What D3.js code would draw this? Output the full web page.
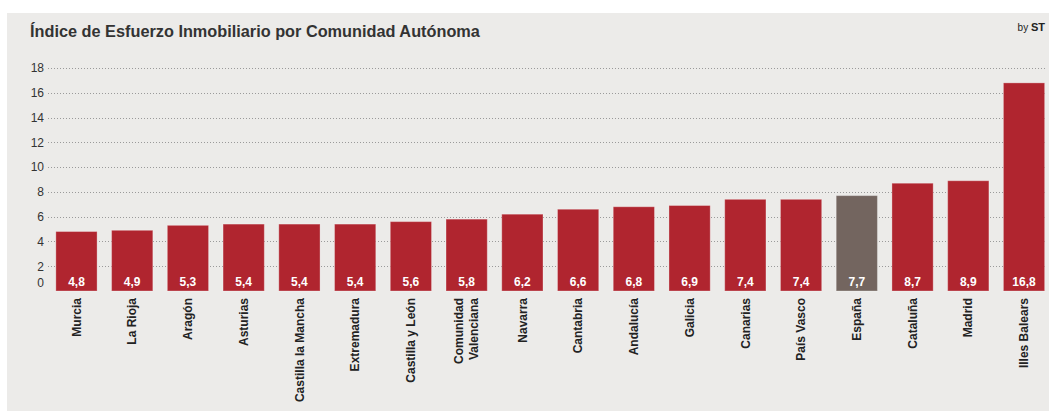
<!DOCTYPE html>
<html>
<head>
<meta charset="utf-8">
<script src="https://cdn.jsdelivr.net/npm/d3@7"></script>
<style>
  html, body { margin: 0; padding: 0; background: #fff; }
  svg { display: block; font-family: "Liberation Sans", Arial, sans-serif; }
</style>
</head>
<body>
<svg id="chart" width="1049" height="411"></svg>
<script>
const categories = ["Murcia", "La Rioja", "Aragón", "Asturias", "Castilla la Mancha", "Extremadura",
  "Castilla y León", "Comunidad Valenciana", "Navarra", "Cantabria", "Andalucía", "Galicia",
  "Canarias", "País Vasco", "España", "Cataluña", "Madrid", "Illes Balears"];
const values = [4.8, 4.9, 5.3, 5.4, 5.4, 5.4, 5.6, 5.8, 6.2, 6.6, 6.8, 6.9, 7.4, 7.4, 7.7, 8.7, 8.9, 16.8];
const highlight = ["España"];
const yTicks = [0, 2, 4, 6, 8, 10, 12, 14, 16, 18];
const title = "Índice de Esfuerzo Inmobiliario por Comunidad Autónoma";

const svg = d3.select("#chart");
const W = 1049, H = 411;
const m = { left: 48.6, right: 1051.9, top: 68, bottom: 291 };

svg.append("rect").attr("x", 7).attr("y", 13).attr("width", W - 7).attr("height", H - 13)
  .attr("fill", "#ecebe9");

svg.append("text").attr("x", 30).attr("y", 37).attr("font-size", 16.3).attr("font-weight", "bold")
  .attr("fill", "#333").text(title);

const by = svg.append("text").attr("x", 1045).attr("y", 31).attr("text-anchor", "end")
  .attr("font-size", 10).attr("fill", "#222");
by.append("tspan").text("by ");
by.append("tspan").attr("font-weight", "bold").attr("font-size", 11).text("ST");

const x = d3.scaleBand().domain(categories).range([m.left, m.right]).paddingInner(0.26).paddingOuter(0.13);
const y = d3.scaleLinear().domain([0, 18]).range([m.bottom, m.top]);

// grid lines
const grid = svg.append("g");
grid.selectAll("line").data(yTicks.filter(d => d > 0)).join("line")
  .attr("x1", 48).attr("x2", 1045)
  .attr("y1", d => Math.round(y(d)) + 0.5).attr("y2", d => Math.round(y(d)) + 0.5)
  .attr("stroke", "#9a9a9a").attr("stroke-width", 1).attr("stroke-dasharray", "1,2");

// y axis labels
const yAxis = d3.axisLeft(y).tickValues(yTicks).tickSize(0).tickPadding(0).tickFormat(d3.format("d"));
const ga = svg.append("g").attr("transform", "translate(44,0)").call(yAxis);
ga.select(".domain").remove();
ga.selectAll("text").attr("font-size", 12).attr("fill", "#333")
  .attr("font-family", "Liberation Sans, Arial, sans-serif")
  .attr("dy", d => d === 0 ? "-0.35em" : "0.32em");

// bars
svg.append("g").selectAll("rect").data(categories).join("rect")
  .attr("x", d => x(d)).attr("width", x.bandwidth())
  .attr("y", (d, i) => y(values[i])).attr("height", (d, i) => y(0) - y(values[i]))
  .attr("fill", d => highlight.includes(d) ? "#73655f" : "#b0252f")
  .attr("stroke", "rgba(255,255,255,0.3)").attr("stroke-width", 1);

// value labels
const fmt = v => d3.format(".1f")(v).replace(".", ",");
svg.append("g").selectAll("text").data(categories).join("text")
  .attr("x", d => x(d) + x.bandwidth() / 2).attr("y", 286)
  .attr("text-anchor", "middle").attr("font-size", 12).attr("font-weight", "bold")
  .attr("fill", "#fff").text((d, i) => fmt(values[i]));

// x labels (rotated)
const xl = svg.append("g").selectAll("g").data(categories).join("g")
  .attr("transform", d => `translate(${x(d) + x.bandwidth() / 2},298) rotate(-90)`);
xl.each(function(d) {
  const g = d3.select(this);
  const lines = d === "Comunidad Valenciana" ? ["Comunidad", "Valenciana"] : [d];
  lines.forEach((t, k) => {
    const off = (k - (lines.length - 1) / 2) * 15;
    g.append("text").attr("x", 0).attr("y", off).attr("dy", "0.35em")
      .attr("text-anchor", "end").attr("font-size", 12).attr("font-weight", "bold")
      .attr("fill", "#222").text(t);
  });
});
</script>
</body>
</html>
